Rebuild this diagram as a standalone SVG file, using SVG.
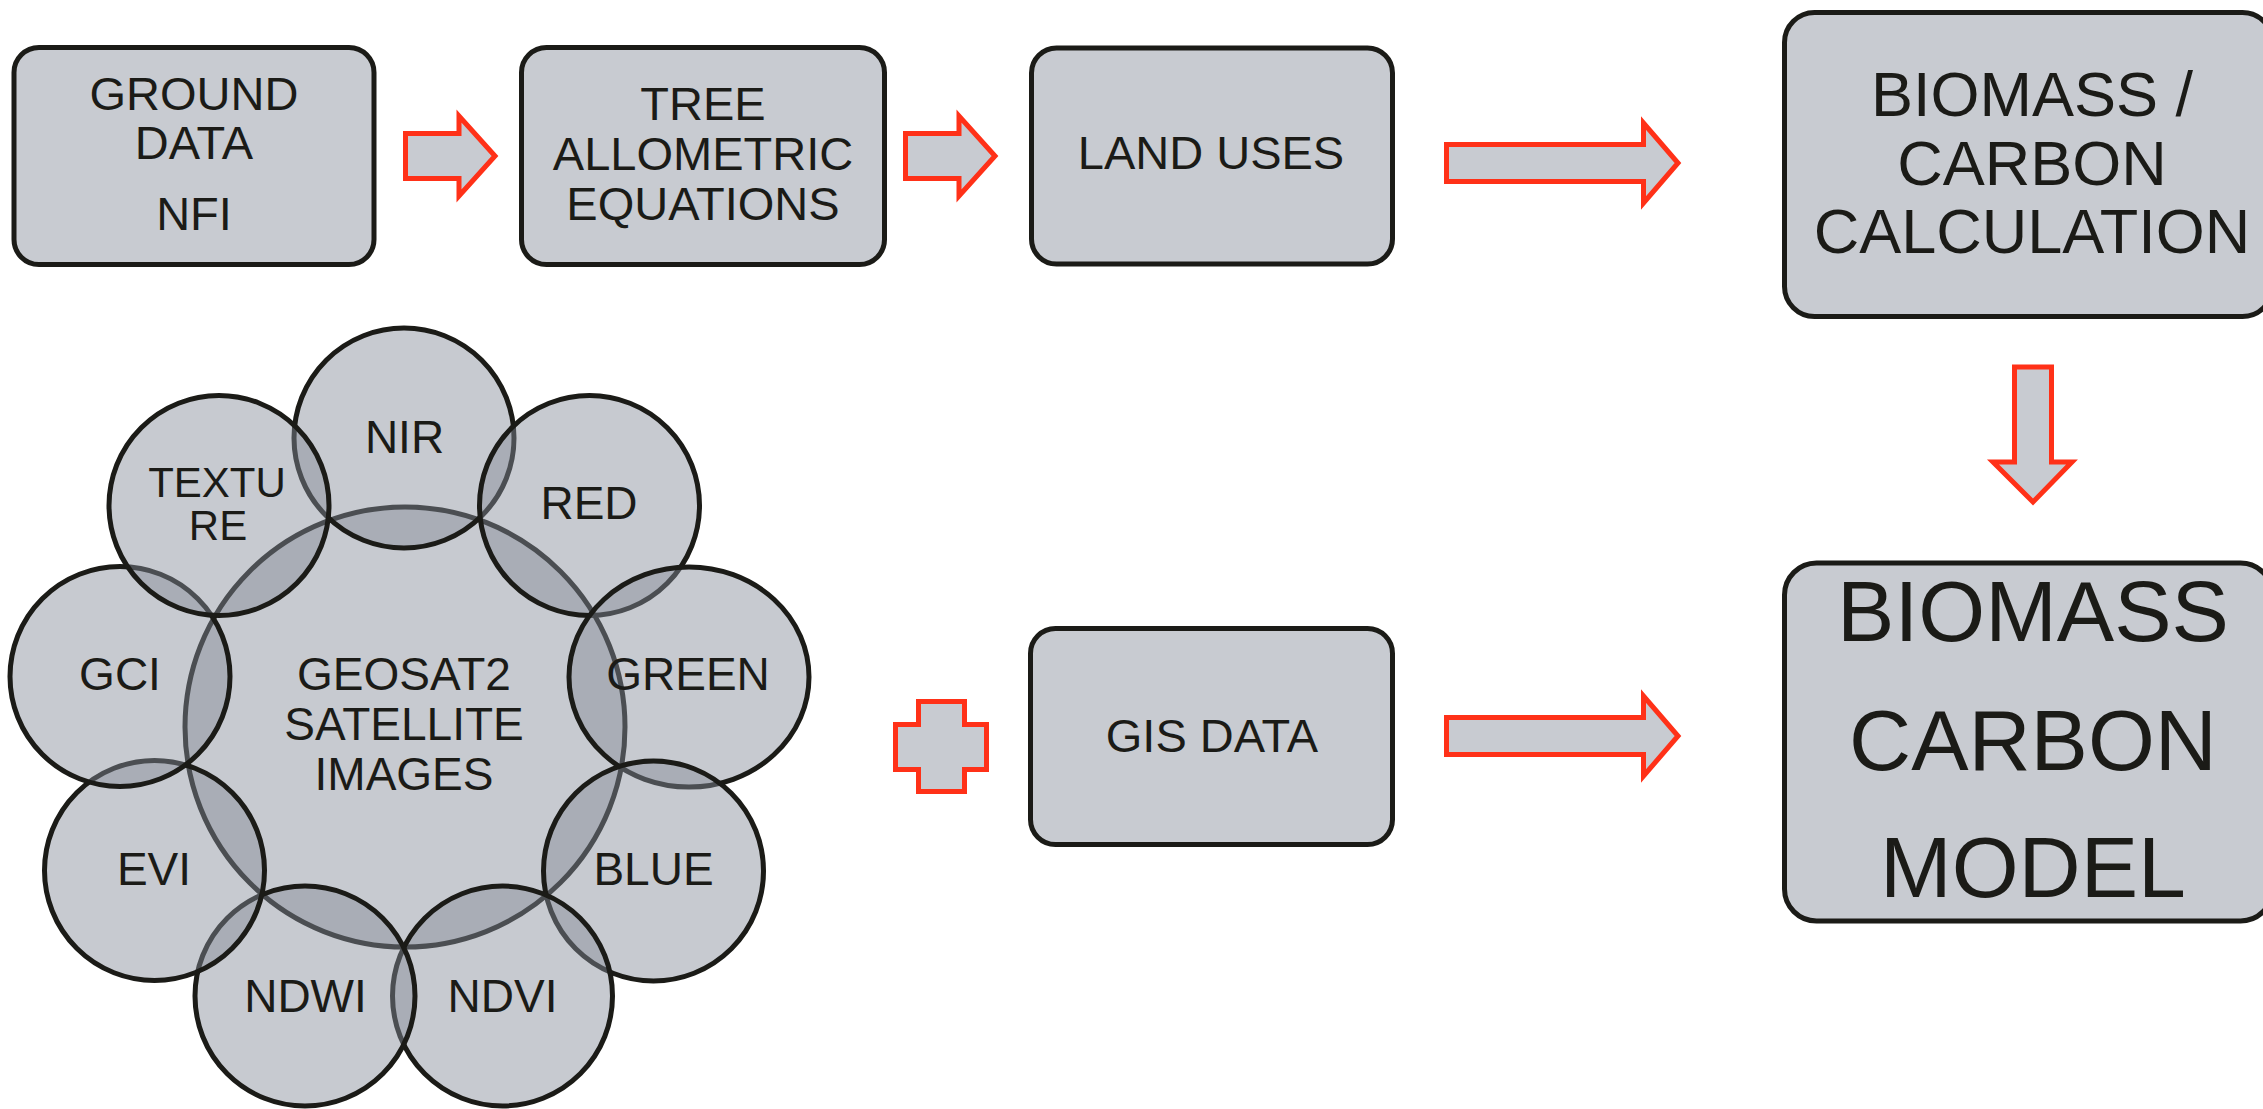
<svg xmlns="http://www.w3.org/2000/svg" width="2263" height="1109" viewBox="0 0 2263 1109">
<defs>
<style>
.box{fill:#c8cbd1;stroke:#1b1b17;stroke-width:5}
.arr{fill:#c8cbd1;stroke:#ff3118;stroke-width:5;stroke-linejoin:miter;stroke-miterlimit:10}
.c{fill:rgb(133,140,153);fill-opacity:0.46;stroke:#1b1b17;stroke-width:5}
text{font-family:"Liberation Sans",Arial,sans-serif;fill:#1b1b17;text-anchor:middle}
.t47{font-size:47px}
.t46{font-size:46px}
.t42{font-size:42px}
.t63{font-size:63px}
.t85{font-size:86px}
</style>
</defs>
<rect width="2263" height="1109" fill="#ffffff"/>

<g id="ground-data">
<rect class="box" x="14" y="47.5" width="360" height="217" rx="25"/>
<text class="t47" x="194" y="110">GROUND</text>
<text class="t47" x="194" y="159">DATA</text>
<text class="t47" x="194" y="230">NFI</text>
</g>

<g id="tree-allometric">
<rect class="box" x="521.5" y="47.5" width="363" height="217" rx="25"/>
<text class="t47" x="703" y="120">TREE</text>
<text class="t47" x="703" y="170">ALLOMETRIC</text>
<text class="t47" x="703" y="220">EQUATIONS</text>
</g>

<g id="land-uses">
<rect class="box" x="1031.5" y="48" width="361" height="216" rx="25"/>
<text class="t47" x="1211" y="169">LAND USES</text>
</g>

<g id="biomass-calc">
<rect class="box" x="1784.5" y="12.5" width="488" height="304" rx="30"/>
<text class="t63" x="2032" y="116">BIOMASS /</text>
<text class="t63" x="2032" y="184.5">CARBON</text>
<text class="t63" x="2032" y="253">CALCULATION</text>
</g>

<g id="gis-data">
<rect class="box" x="1030.5" y="628.5" width="362" height="216" rx="25"/>
<text class="t47" x="1212" y="752">GIS DATA</text>
</g>

<g id="biomass-model">
<rect class="box" x="1784.5" y="563" width="488" height="358" rx="32"/>
<text class="t85" x="2033" y="641">BIOMASS</text>
<text class="t85" x="2033" y="770">CARBON</text>
<text class="t85" x="2033" y="897">MODEL</text>
</g>

<g id="satellite-images">
<circle class="c" cx="405" cy="727" r="220"/>
<circle class="c" cx="404" cy="438" r="110"/>
<circle class="c" cx="589.5" cy="505.5" r="110"/>
<ellipse class="c" cx="689" cy="677" rx="120" ry="110"/>
<circle class="c" cx="653.5" cy="871" r="110"/>
<circle class="c" cx="502.5" cy="996" r="110"/>
<circle class="c" cx="305" cy="996" r="110"/>
<circle class="c" cx="154.5" cy="870.5" r="110"/>
<circle class="c" cx="120" cy="676.5" r="110"/>
<circle class="c" cx="219" cy="505.5" r="110"/>
<text class="t46" x="404" y="690">GEOSAT2</text>
<text class="t46" x="404" y="740">SATELLITE</text>
<text class="t46" x="404" y="790">IMAGES</text>
<text class="t46" x="404.5" y="453">NIR</text>
<text class="t46" x="589" y="519">RED</text>
<text class="t46" x="688" y="690">GREEN</text>
<text class="t46" x="653.5" y="885">BLUE</text>
<text class="t46" x="502.5" y="1012">NDVI</text>
<text class="t46" x="305.5" y="1012">NDWI</text>
<text class="t46" x="154" y="885">EVI</text>
<text class="t46" x="120" y="690">GCI</text>
<text class="t42" x="217" y="497">TEXTU</text>
<text class="t42" x="218" y="540">RE</text>
</g>

<g id="connectors">
<polygon class="arr" points="405.5,133.5 459,133.5 459,116 495,156 459,196 459,178.5 405.5,178.5"/>
<polygon class="arr" points="905.5,133.5 959,133.5 959,116 995,156 959,196 959,178.5 905.5,178.5"/>
<polygon class="arr" points="1446.5,144.5 1643.5,144.5 1643.5,123 1678,163 1643.5,203 1643.5,181.5 1446.5,181.5"/>
<polygon class="arr" points="2014.5,367 2051.5,367 2051.5,462 2072,462 2033,502 1993,462 2014.5,462"/>
<polygon class="arr" points="1446.5,717.5 1643.5,717.5 1643.5,696 1678,736 1643.5,776 1643.5,754.5 1446.5,754.5"/>
<polygon class="arr" points="918.5,701.5 964.5,701.5 964.5,724.5 986.5,724.5 986.5,769.5 964.5,769.5 964.5,791.5 918.5,791.5 918.5,769.5 895.5,769.5 895.5,724.5 918.5,724.5"/>
</g>
</svg>
